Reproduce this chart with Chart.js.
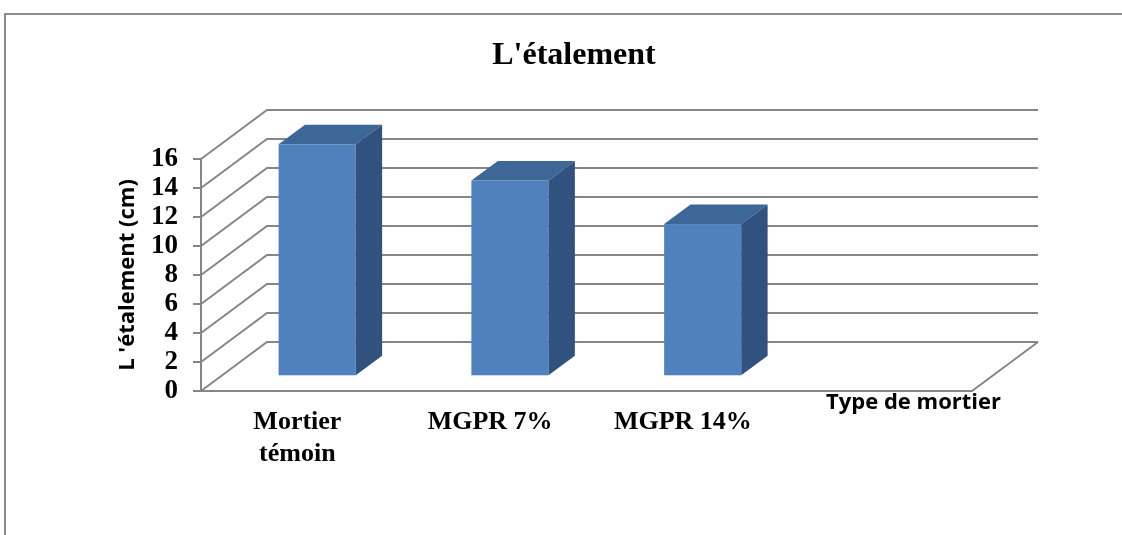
<!DOCTYPE html>
<html>
<head>
<meta charset="utf-8">
<title>L'étalement</title>
<script src="https://cdn.jsdelivr.net/npm/chart.js@4/dist/chart.umd.min.js"></script>
<style>
    body { margin: 0; background: #ffffff; }
    #frame {
        position: absolute; left: 4px; top: 13px;
        width: 1140px; height: 540px;
        border: 2px solid #8c8c8c;
    }
    #wrap { position: absolute; left: 0; top: 0; width: 1122px; height: 535px; }
</style>
</head>
<body>
<div id="frame"></div>
<div id="wrap"><canvas id="barChart"></canvas></div>
<script>
// Chart data
const categories = [['Mortier', 'témoin'], 'MGPR 7%', 'MGPR 14%', ''];
const etalement = [16, 13.5, 10.5, null];
const yMin = 0;
const yMax = 16;
const yStep = 2;

const gridColor = '#868686';
const frontColor = '#4F81BD';
const topColor = '#3D6796';
const sideColor = '#31527E';

// depth of the 3D box (back wall offset) and where the bars sit in it
const depthX = 66;
const depthY = -49;
const barFront = 0.3;
const barBack = 0.7;

const serif = '"Liberation Serif", "Times New Roman", serif';
const sans = '"Open Sans", "DejaVu Sans", sans-serif';

// walls, floor and bars drawn in perspective
const box3d = {
    id: 'box3d',
    beforeDatasetsDraw(chart) {
        const { ctx, chartArea, scales } = chart;
        const y = scales.y;
        ctx.save();
        ctx.strokeStyle = gridColor;
        ctx.lineWidth = 2;
        ctx.beginPath();
        y.ticks.forEach(t => {
            const py = y.getPixelForValue(t.value);
            ctx.moveTo(chartArea.left, py);
            ctx.lineTo(chartArea.left + depthX, py + depthY);
            ctx.lineTo(chartArea.right + depthX, py + depthY);
        });
        ctx.moveTo(chartArea.right, chartArea.bottom);
        ctx.lineTo(chartArea.right + depthX, chartArea.bottom + depthY);
        ctx.stroke();
        ctx.restore();
    },
    afterDatasetsDraw(chart) {
        const { ctx } = chart;
        const meta = chart.getDatasetMeta(0);
        const ox = depthX * barFront, oy = depthY * barFront;
        const dx = depthX * (barBack - barFront), dy = depthY * (barBack - barFront);
        ctx.save();
        meta.data.forEach((bar, i) => {
            if (etalement[i] == null) return;
            const { x, y, base, width } = bar.getProps(['x', 'y', 'base', 'width'], true);
            const x0 = x - width / 2 + ox, x1 = x + width / 2 + ox;
            const yt = y + oy, yb = base + oy;
            // front face
            ctx.fillStyle = frontColor;
            ctx.fillRect(x0, yt, x1 - x0, yb - yt);
            // top face
            ctx.fillStyle = topColor;
            ctx.beginPath();
            ctx.moveTo(x0, yt);
            ctx.lineTo(x0 + dx, yt + dy);
            ctx.lineTo(x1 + dx, yt + dy);
            ctx.lineTo(x1, yt);
            ctx.closePath();
            ctx.fill();
            // side face
            ctx.fillStyle = sideColor;
            ctx.beginPath();
            ctx.moveTo(x1, yt);
            ctx.lineTo(x1 + dx, yt + dy);
            ctx.lineTo(x1 + dx, yb + dy);
            ctx.lineTo(x1, yb);
            ctx.closePath();
            ctx.fill();
        });
        ctx.restore();
    },
    afterDraw(chart) {
        const { ctx } = chart;
        ctx.save();
        ctx.fillStyle = '#000000';
        ctx.textBaseline = 'alphabetic';
        // chart title
        ctx.font = 'bold 32px ' + serif;
        ctx.textAlign = 'center';
        ctx.fillText("L'étalement", 574, 64);
        // x axis title
        ctx.font = 'bold 22px ' + sans;
        ctx.textAlign = 'left';
        ctx.fillText('Type de mortier', 826, 409);
        ctx.restore();
    }
};

const ctx = document.getElementById('barChart').getContext('2d');
new Chart(ctx, {
    type: 'bar',
    data: {
        labels: categories,
        datasets: [{
            label: "L'étalement",
            data: etalement,
            backgroundColor: 'rgba(0,0,0,0)',
            barPercentage: 0.4,
            categoryPercentage: 1
        }]
    },
    options: {
        responsive: true,
        maintainAspectRatio: false,
        animation: false,
        layout: {
            padding: { left: 100, right: 150, top: 159, bottom: 44 }
        },
        plugins: {
            legend: { display: false },
            tooltip: { enabled: false }
        },
        scales: {
            x: {
                grid: { display: false, drawTicks: false },
                border: { display: true, color: gridColor, width: 2 },
                ticks: {
                    color: '#000000',
                    padding: 16,
                    autoSkip: false,
                    maxRotation: 0,
                    font: { family: serif, size: 26, weight: 'bold', lineHeight: 1.2 }
                },
                afterFit(scale) { scale.height = 100; }
            },
            y: {
                min: yMin,
                max: yMax,
                ticks: {
                    stepSize: yStep,
                    autoSkip: false,
                    color: '#000000',
                    padding: 15,
                    font: { family: serif, size: 27, weight: 'bold', lineHeight: 1 }
                },
                grid: { drawOnChartArea: false, color: gridColor, lineWidth: 2, tickLength: 8 },
                border: { display: true, color: gridColor, width: 2 },
                title: {
                    display: true,
                    text: "L 'étalement (cm)",
                    color: '#000000',
                    padding: { top: 15, bottom: 0 },
                    font: { family: sans, size: 22, weight: 'bold', lineHeight: 1.2 }
                },
                afterFit(scale) { scale.width = 101; }
            }
        }
    },
    plugins: [box3d]
});
</script>
</body>
</html>
